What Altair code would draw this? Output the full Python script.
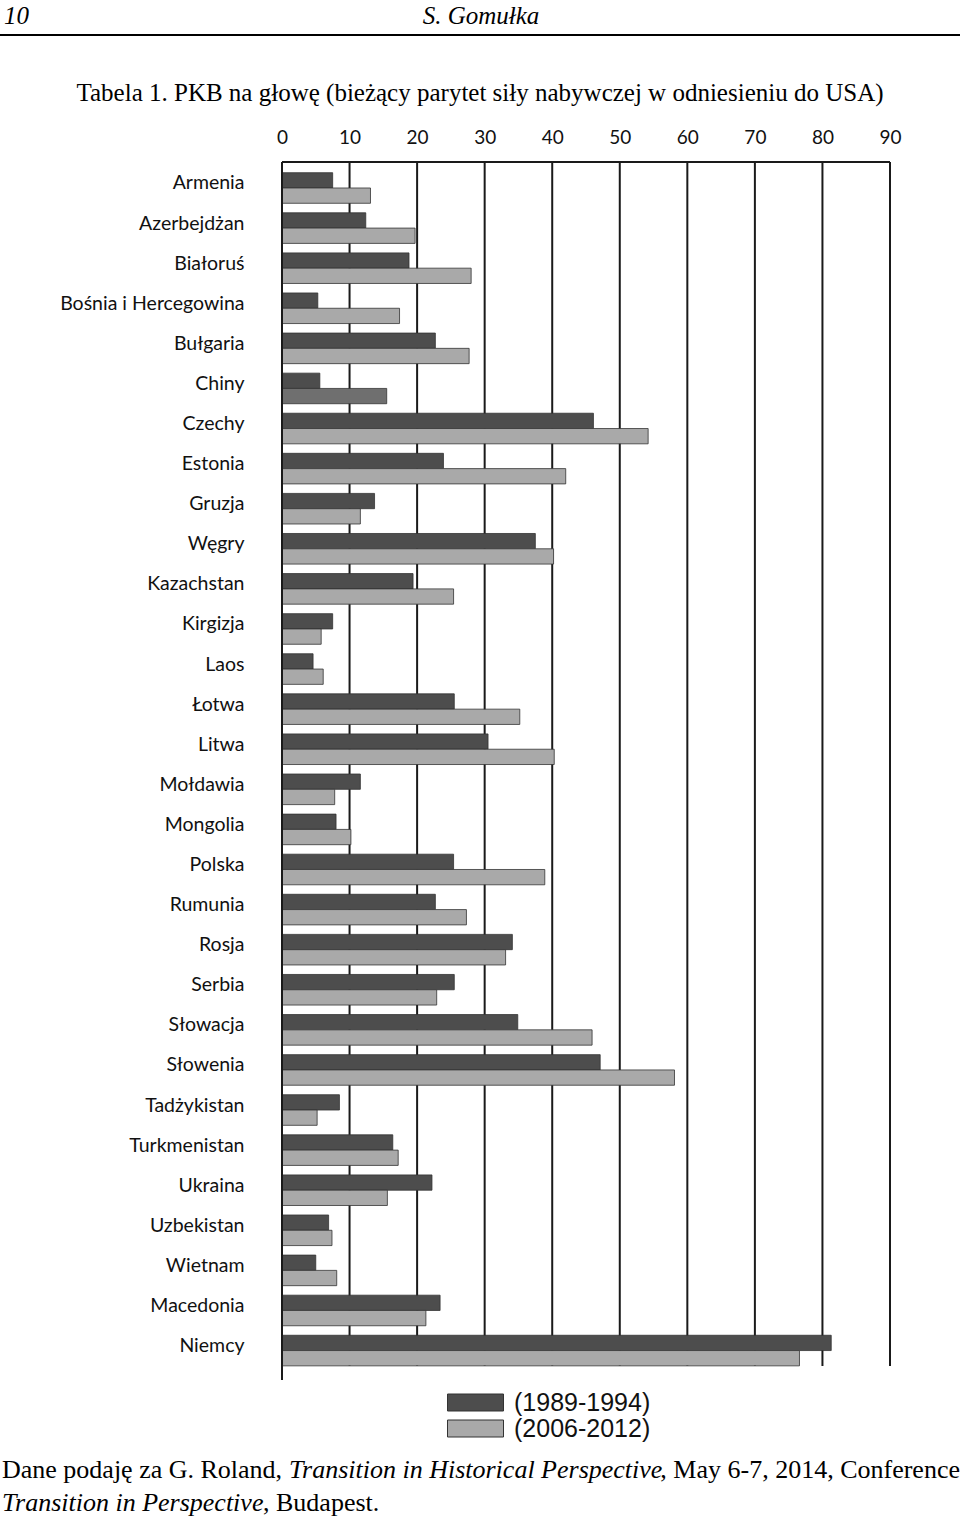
import altair as alt
import pandas as pd

# ---- data ----
kraje = ["Armenia", "Azerbejdżan", "Białoruś", "Bośnia i Hercegowina", "Bułgaria",
         "Chiny", "Czechy", "Estonia", "Gruzja", "Węgry", "Kazachstan", "Kirgizja",
         "Laos", "Łotwa", "Litwa", "Mołdawia", "Mongolia", "Polska", "Rumunia",
         "Rosja", "Serbia", "Słowacja", "Słowenia", "Tadżykistan", "Turkmenistan",
         "Ukraina", "Uzbekistan", "Wietnam", "Macedonia", "Niemcy"]
okresy = ["(1989-1994)", "(2006-2012)"]
pkb_1989_1994 = [7.5, 12.4, 18.8, 5.3, 22.7, 5.6, 46.1, 23.9, 13.7, 37.5, 19.4, 7.5,
                 4.6, 25.5, 30.5, 11.6, 8.0, 25.4, 22.7, 34.1, 25.5, 34.9, 47.1, 8.5,
                 16.4, 22.2, 6.9, 5.0, 23.4, 81.3]
pkb_2006_2012 = [13.1, 19.7, 28.0, 17.4, 27.7, 15.5, 54.2, 42.0, 11.6, 40.2, 25.4, 5.8,
                 6.1, 35.2, 40.3, 7.8, 10.2, 38.9, 27.3, 33.1, 22.9, 45.9, 58.1, 5.2,
                 17.2, 15.6, 7.4, 8.1, 21.3, 76.6]
x_ticks = [0, 10, 20, 30, 40, 50, 60, 70, 80, 90]

naglowek_strona = "10"
naglowek_autor = "S. Gomułka"
tytul = "Tabela 1. PKB na głowę (bieżący parytet siły nabywczej w odniesieniu do USA)"
przypis_1a = "Dane podaję za G. Roland,"
przypis_1b = "Transition in Historical Perspective"
przypis_1c = ", May 6-7, 2014, Conference"
przypis_2a = "Transition in Perspective"
przypis_2b = ", Budapest."

rows = []
for k, a, b in zip(kraje, pkb_1989_1994, pkb_2006_2012):
    rows.append({"kraj": k, "okres": okresy[0], "wartosc": a})
    rows.append({"kraj": k, "okres": okresy[1], "wartosc": b})
df = pd.DataFrame(rows)

W, H = 608, 1218
PL, PT = 282, 162
SERIF = "Liberation Serif"
SANS = "Lato"

xscale = alt.Scale(domain=[x_ticks[0], x_ticks[-1]], nice=False, zero=True)

bars = alt.Chart(df).mark_bar(stroke="#333333", strokeWidth=0.8).encode(
    x=alt.X("wartosc:Q", scale=xscale,
            axis=alt.Axis(orient="top", values=x_ticks, format="d", grid=False,
                          ticks=False, domain=False, labelPadding=15, labelFlush=False,
                          labelFont=SANS, labelFontSize=19, labelColor="#111111",
                          title=None)),
    y=alt.Y("kraj:N", sort=kraje,
            scale=alt.Scale(range=[5.95, 1208.6], paddingInner=0.237, paddingOuter=0.1185),
            axis=alt.Axis(title=None, ticks=False, domain=False, labelPadding=38,
                          labelFont=SANS, labelFontSize=19.5, labelOffset=-4.5,
                          labelColor="#111111", labelLimit=400)),
    yOffset=alt.YOffset("okres:N", sort=okresy,
                        scale=alt.Scale(paddingInner=0, paddingOuter=0)),
    color=alt.condition(
        (alt.datum.kraj == "Chiny") & (alt.datum.okres == okresy[1]),
        alt.value("#6f6f6f"),
        alt.Color("okres:N", sort=okresy,
                  scale=alt.Scale(domain=okresy, range=["#4d4d4d", "#a9a9a9"]),
                  legend=alt.Legend(title=None, orient="none", legendX=181, legendY=1228,
                                    direction="vertical", padding=0,
                                    symbolType="M-2.8,-0.85H2.8V0.85H-2.8Z", symbolSize=400,
                                    symbolStrokeColor="#333333", symbolStrokeWidth=1,
                                    symbolOpacity=1,
                                    labelFont="Liberation Sans", labelFontSize=25,
                                    labelColor="#111111", labelOffset=26,
                                    rowPadding=0, labelLimit=400))
    ),
)

grid = alt.Chart(pd.DataFrame({"x": x_ticks[1:]})).mark_rule(
    color="#1a1a1a", strokeWidth=2).encode(
    x=alt.X("x:Q", scale=xscale), y=alt.value(0), y2=alt.value(1204))

left_axis = alt.Chart(pd.DataFrame({"x": [x_ticks[0]]})).mark_rule(
    color="#1a1a1a", strokeWidth=2).encode(
    x=alt.X("x:Q", scale=xscale), y=alt.value(0), y2=alt.value(H))

top_border = alt.Chart(pd.DataFrame({"a": [x_ticks[0]], "b": [x_ticks[-1]]})).mark_rule(
    color="#1a1a1a", strokeWidth=2).encode(
    x=alt.X("a:Q", scale=xscale), x2="b:Q", y=alt.value(0))


def txt(s, x, y, align="left", italic=False, size=26, font=SERIF):
    return alt.Chart(pd.DataFrame({"t": [s]})).mark_text(
        align=align, baseline="middle", font=font, fontSize=size,
        fontStyle="italic" if italic else "normal", color="#000000").encode(
        text="t:N", x=alt.value(x), y=alt.value(y))


header_line = alt.Chart(pd.DataFrame({"t": [0]})).mark_rule(
    color="#000000", strokeWidth=2).encode(
    x=alt.value(-PL), x2=alt.value(960 - PL), y=alt.value(35 - PT))

texts = [
    txt(naglowek_strona, 4 - PL, 16 - PT, italic=True, size=25),
    txt(naglowek_autor, 481 - PL, 16 - PT, align="center", italic=True, size=25),
    txt(tytul, 480 - PL, 93 - PT, align="center", size=25),
    txt(przypis_1a, 2 - PL, 1470 - PT),
    txt(przypis_1b, 289 - PL, 1470 - PT, italic=True),
    txt(przypis_1c, 960 - PL, 1470 - PT, align="right"),
    txt(przypis_2a, 2 - PL, 1503 - PT, italic=True),
    txt(przypis_2b, 263 - PL, 1503 - PT),
]

chart = alt.layer(grid, bars, left_axis, top_border, header_line, *texts).properties(
    width=W, height=H,
    autosize=alt.AutoSizeParams(type="none"),
    padding={"left": PL, "top": PT, "right": 960 - PL - W, "bottom": 1520 - PT - H},
    background="white",
).configure_view(stroke=None)

chart.save("out.html", embed_options={"renderer": "svg", "actions": False})
